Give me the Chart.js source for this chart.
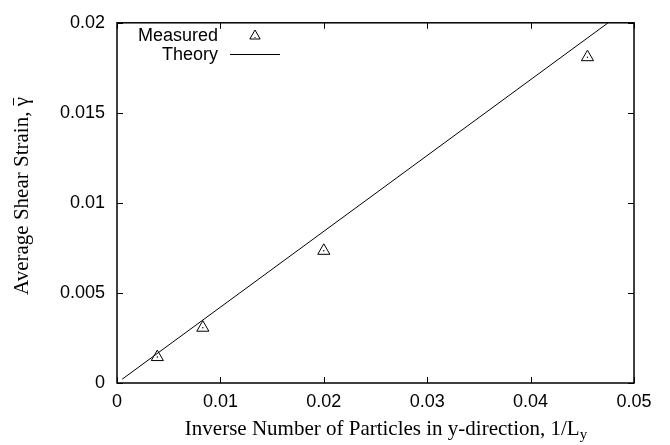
<!DOCTYPE html>
<html>
<head>
<meta charset="utf-8">
<script src="https://cdn.jsdelivr.net/npm/chart.js@4.4.1/dist/chart.umd.min.js"></script>
<style>
  html, body { margin: 0; padding: 0; background: #fff; }
  #wrap { width: 670px; height: 445px; }
</style>
</head>
<body>
<div id="wrap"><canvas id="chart" width="670" height="445"></canvas></div>
<script>
// measured points (x = 1/Ly, y = average shear strain)
const measuredX = [0.0039, 0.0083, 0.0200, 0.0455];
const measuredY = [0.00144, 0.00307, 0.00734, 0.01809];

// theory line end points
const theoryX = [0.0005, 0.0475];
const theoryY = [0.00021, 0.0200];

const xTickLabels = ['0', '0.01', '0.02', '0.03', '0.04', '0.05'];
const yTickLabels = ['0', '0.005', '0.01', '0.015', '0.02'];

const legendLabels = ['Measured', 'Theory'];
const xTitle = 'Inverse Number of Particles in y-direction, 1/L';
const xTitleSub = 'y';
const yTitle = 'Average Shear Strain, \u03b3';

const sansFont = '"Liberation Sans", Arial, sans-serif';
const serifFont = '"Liberation Serif", "Times New Roman", serif';

const toPoints = (xs, ys) => xs.map((x, i) => ({ x: x, y: ys[i] }));

// frame, inward ticks, legend and axis titles in gnuplot style
const gnuplotDecor = {
    id: 'gnuplotDecor',
    afterDraw(chart) {
        const ctx = chart.ctx;
        const area = chart.chartArea;
        const xs = chart.scales.x;
        const ys = chart.scales.y;
        const tickLen = 6;

        ctx.save();
        ctx.strokeStyle = '#000';
        ctx.lineWidth = 1;
        ctx.beginPath();
        xs.ticks.forEach(t => {
            const px = Math.round(xs.getPixelForValue(t.value)) + 0.5;
            ctx.moveTo(px, area.bottom);
            ctx.lineTo(px, area.bottom - tickLen);
            ctx.moveTo(px, area.top);
            ctx.lineTo(px, area.top + tickLen);
        });
        ys.ticks.forEach(t => {
            const py = Math.round(ys.getPixelForValue(t.value)) + 0.5;
            ctx.moveTo(area.left, py);
            ctx.lineTo(area.left + tickLen, py);
            ctx.moveTo(area.right, py);
            ctx.lineTo(area.right - tickLen, py);
        });
        ctx.stroke();

        ctx.lineWidth = 1.5;
        ctx.strokeRect(area.left, area.top, area.right - area.left, area.bottom - area.top);

        // legend
        ctx.fillStyle = '#000';
        ctx.font = '18px ' + sansFont;
        ctx.textAlign = 'right';
        ctx.textBaseline = 'middle';
        ctx.fillText(legendLabels[0], 218, 36);
        ctx.fillText(legendLabels[1], 218, 55);
        ctx.lineWidth = 1;
        ctx.fillStyle = 'rgba(255,255,255,0)';
        Chart.helpers.drawPoint(ctx, { pointStyle: 'triangle', radius: 6, rotation: 0, borderWidth: 1 }, 255, 36);
        ctx.fillStyle = '#000';
        ctx.fillRect(254.5, 37, 1, 1);
        ctx.beginPath();
        ctx.moveTo(230, 54.5);
        ctx.lineTo(280, 54.5);
        ctx.stroke();

        // x title with subscript
        ctx.textAlign = 'left';
        ctx.textBaseline = 'alphabetic';
        ctx.font = '21px ' + serifFont;
        const mainW = ctx.measureText(xTitle).width;
        ctx.font = '15px ' + serifFont;
        const subW = ctx.measureText(xTitleSub).width;
        const x0 = 386 - (mainW + subW) / 2;
        ctx.font = '21px ' + serifFont;
        ctx.fillText(xTitle, x0, 435);
        ctx.font = '15px ' + serifFont;
        ctx.fillText(xTitleSub, x0 + mainW, 439);

        // y title, rotated, with bar over gamma
        ctx.translate(28, 196);
        ctx.rotate(-Math.PI / 2);
        ctx.font = '21px ' + serifFont;
        const yw = ctx.measureText(yTitle).width;
        const gw = ctx.measureText('\u03b3').width;
        ctx.fillText(yTitle, -yw / 2, 0);
        ctx.beginPath();
        ctx.moveTo(yw / 2 - gw + 1, -14.5);
        ctx.lineTo(yw / 2 - 1, -14.5);
        ctx.stroke();
        ctx.restore();
    }
};

new Chart(document.getElementById('chart'), {
    type: 'scatter',
    data: {
        datasets: [
            {
                label: legendLabels[0],
                data: toPoints(measuredX, measuredY),
                pointStyle: 'triangle',
                pointRadius: 7,
                pointBorderWidth: 1,
                pointBorderColor: '#000',
                pointBackgroundColor: 'rgba(255,255,255,0)',
                showLine: false
            },
            {
                label: 'center dots',
                data: toPoints(measuredX, measuredY),
                pointStyle: 'circle',
                pointRadius: 0.7,
                pointBorderWidth: 0,
                pointBackgroundColor: '#000',
                showLine: false
            },
            {
                label: legendLabels[1],
                data: toPoints(theoryX, theoryY),
                showLine: true,
                borderColor: '#000',
                borderWidth: 1,
                pointRadius: 0,
                fill: false
            }
        ]
    },
    options: {
        responsive: false,
        animation: false,
        events: [],
        layout: { padding: { top: 14, right: 36, left: 0, bottom: 0 } },
        plugins: {
            legend: { display: false },
            tooltip: { enabled: false },
            title: { display: false }
        },
        scales: {
            x: {
                type: 'linear',
                min: 0,
                max: 0.05,
                grid: { display: false, drawTicks: false },
                border: { display: false },
                afterFit: scale => { scale.height = 62; },
                ticks: {
                    stepSize: 0.01,
                    padding: 8,
                    color: '#000',
                    font: { family: sansFont, size: 18 },
                    callback: (v, i) => xTickLabels[i]
                }
            },
            y: {
                type: 'linear',
                min: 0,
                max: 0.02,
                grid: { display: false, drawTicks: false },
                border: { display: false },
                afterFit: scale => { scale.width = 117; },
                ticks: {
                    stepSize: 0.005,
                    padding: 12,
                    color: '#000',
                    font: { family: sansFont, size: 18 },
                    callback: (v, i) => yTickLabels[i]
                }
            }
        }
    },
    plugins: [gnuplotDecor]
});
</script>
</body>
</html>
